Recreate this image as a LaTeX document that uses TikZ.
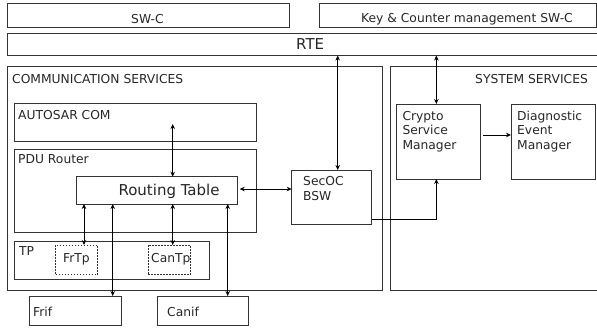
\documentclass[tikz,border=0pt]{standalone}
\usepackage{fontspec}
\setmainfont{DejaVu Sans}
\usetikzlibrary{arrows.meta}

\begin{document}
\begin{tikzpicture}[x=1pt, y=-1pt, >={Stealth[length=5pt, width=4.5pt]},
        box/.style={draw=black!80, line width=0.9pt, anchor=north west, inner sep=0pt, outer sep=0pt},
        dbox/.style={box, line width=0.7pt, dash pattern=on 1.5pt off 1.5pt},
        lbl/.style={anchor=base west, inner sep=0pt, align=left, text=black!85, font=\fontsize{12.3}{14.5}\selectfont},
        big/.style={lbl, font=\fontsize{15}{17}\selectfont},
        link/.style={<->, line width=0.8pt},
        to/.style={->, line width=0.8pt}]
        \useasboundingbox (0,0) rectangle (597,333);

        \node[box, minimum width=282pt, minimum height=24pt] (swc) at (7,3.3) {};
        \node[box, minimum width=277pt, minimum height=24pt] (keyswc) at (319,3.3) {};
        \node[box, minimum width=592pt, minimum height=22.5pt] (rte) at (7,33) {};
        \node[box, minimum width=375.7pt, minimum height=224pt] (comm) at (7,66) {};
        \node[box, minimum width=210pt, minimum height=224pt] (sys) at (390,66) {};
        \node[box, minimum width=242pt, minimum height=38pt] (autosar) at (14,103) {};
        \node[box, minimum width=242pt, minimum height=83pt] (pdu) at (14,149.3) {};
        \node[box, minimum width=161pt, minimum height=27.3pt] (rt) at (76.7,176.7) {};
        \node[box, minimum width=195pt, minimum height=37.3pt] (tp) at (14,241.7) {};
        \node[dbox, minimum width=42pt, minimum height=29.7pt] (frtp) at (55.7,245) {};
        \node[dbox, minimum width=42pt, minimum height=29.7pt] (cantp) at (148,245) {};
        \node[box, minimum width=92pt, minimum height=29.7pt] (frif) at (29,296) {};
        \node[box, minimum width=91pt, minimum height=29.7pt] (canif) at (157,296) {};
        \node[box, minimum width=80pt, minimum height=54.3pt] (secoc) at (291.7,170) {};
        \node[box, minimum width=83.3pt, minimum height=75pt] (csm) at (396.7,104) {};
        \node[box, minimum width=84pt, minimum height=75pt] (dem) at (511,104) {};

        % texts
        \node[lbl] (swctxt) at (131,23) {SW-C};
        \node[lbl] (keytxt) at (361,22.7) {Key \& Counter management SW-C};
        \node[big] (rtetxt) at (296,49) {RTE};
        \node[lbl] (commtxt) at (12,83) {COMMUNICATION SERVICES};
        \node[lbl, anchor=base east] (systxt) at (588,83) {SYSTEM SERVICES};
        \node[lbl] (autosartxt) at (18,119) {AUTOSAR COM};
        \node[lbl] (pdutxt) at (18,163) {PDU Router};
        \node[big] (rttxt) at (118.3,195.7) {Routing Table};
        \node[lbl] (tptxt) at (19,255) {TP};
        \node[lbl] (frtptxt) at (63,262.3) {FrTp};
        \node[lbl] (cantptxt) at (151,262.3) {CanTp};
        \node[lbl] (friftxt) at (33,316) {Frif};
        \node[lbl] (caniftxt) at (167,316) {Canif};
        % multi-line texts sit on their last baseline
        \node[lbl] (secoctxt) at (303,200) {SecOC\\BSW};
        \node[lbl] (csmtxt) at (402.3,149) {Crypto\\Service\\Manager};
        \node[lbl] (demtxt) at (517,149) {Diagnostic\\Event\\Manager};

        % connectors
        \coordinate (comend) at (172.7,124);
        \coordinate (xfr) at (84,0);
        \coordinate (xfi) at (112.7,0);
        \coordinate (xci) at (227.7,0);
        \coordinate (sectop) at ([xshift=6pt]secoc.north);
        \coordinate (csmx) at ([xshift=-2pt]csm.north);

        \draw[link] (comend) -- (comend |- rt.north);
        \draw[link] (sectop |- rte.south) -- (sectop);
        \draw[link] (csmx |- rte.south) -- (csmx);
        \draw[to] ([shift={(3pt,6.5pt)}]csm.east) -- ([yshift=6.5pt]dem.west);
        \draw[to] ([yshift=5pt]secoc.south east) -| (csmx |- csm.south);
        \draw[link] ([xshift=2pt, yshift=1.3pt]rt.east) -- ([yshift=1.3pt]rt.east -| secoc.west);
        \draw[link] (rt.south -| xfr) -- (frtp.north -| xfr);
        \draw[link] (rt.south -| comend) -- (cantp.north -| comend);
        \draw[link] (rt.south -| xfi) -- (frif.north -| xfi);
        \draw[link] (rt.south -| xci) -- (canif.north -| xci);
\end{tikzpicture}
\end{document}
